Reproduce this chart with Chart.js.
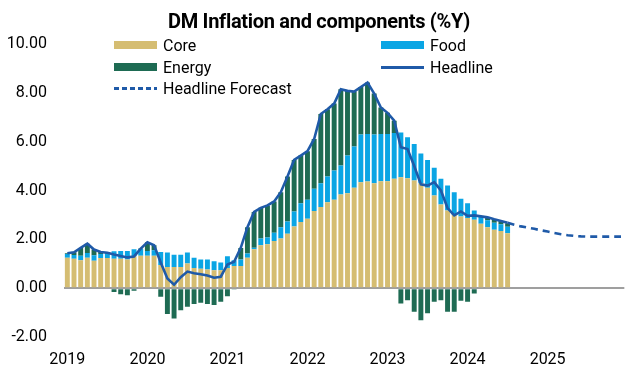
<!DOCTYPE html>
<html>
<head>
<meta charset="utf-8">
<script src="https://cdn.jsdelivr.net/npm/chart.js@4"></script>
<style>
  body { margin: 0; background: #fff; }
  #wrap { position: relative; width: 634px; height: 369px; font-family: Roboto, "Noto Sans", sans-serif; color: #000; }
  #title { position: absolute; left: 0; width: 638px; top: 8px; text-align: center; font-weight: 700; font-size: 20px; line-height: 26px; letter-spacing: -0.3px; }
  .item { position: absolute; height: 20px; display: flex; align-items: center; font-size: 16px; white-space: nowrap; }
  .sw { width: 43px; height: 8px; margin-right: 6px; }
  .ln { width: 43px; height: 3px; margin-right: 6px; }
</style>
</head>
<body>
<div id="wrap">
  <canvas id="chart" width="634" height="369"></canvas>
  <div id="title">DM Inflation and components (%Y)</div>
  <div class="item" style="left:114px;top:35px"><span class="sw" style="background:#D5BD72"></span>Core</div>
  <div class="item" style="left:114px;top:57px"><span class="sw" style="background:#1E6B53"></span>Energy</div>
  <div class="item" style="left:114px;top:78px"><span class="ln" style="background:repeating-linear-gradient(to right,#1F5AA8 0 5px,transparent 5px 8px)"></span>Headline Forecast</div>
  <div class="item" style="left:381px;top:35px"><span class="sw" style="background:#0AA5E4"></span>Food</div>
  <div class="item" style="left:381px;top:57px"><span class="ln" style="background:#1F5AA8"></span>Headline</div>
</div>
<script>
'use strict';

// monthly, Jan 2019 .. Dec 2025
const years = ['2019', '2020', '2021', '2022', '2023', '2024', '2025'];
const months = [];
years.forEach(function (y) {
    for (let m = 1; m <= 12; m++) months.push(y + '-' + String(m).padStart(2, '0'));
});

// contributions to y/y inflation, Jan 2019 .. Jul 2024
const core = [
    1.25, 1.20, 1.14, 1.25, 1.12, 1.24, 1.24, 1.20, 1.20, 1.17, 1.31, 1.33,
    1.33, 1.33, 0.95, 0.87, 0.87, 0.87, 1.01, 0.83, 0.80, 0.76, 0.73, 0.73,
    0.83, 0.91, 0.91, 1.25, 1.59, 1.76, 1.80, 1.93, 2.03, 2.23, 2.53, 2.71,
    2.84, 3.16, 3.32, 3.52, 3.62, 3.84, 3.89, 4.11, 4.34, 4.37, 4.30, 4.38,
    4.38, 4.48, 4.54, 4.50, 4.41, 4.30, 4.11, 3.80, 3.43, 3.18, 3.01, 2.94,
    2.87, 2.80, 2.64, 2.50, 2.39, 2.34, 2.25
];
const food = [
    0.15, 0.16, 0.19, 0.19, 0.23, 0.16, 0.17, 0.31, 0.32, 0.35, 0.28, 0.27,
    0.19, 0.22, 0.53, 0.59, 0.50, 0.50, 0.45, 0.42, 0.37, 0.41, 0.37, 0.32,
    0.48, 0.23, 0.26, 0.17, 0.07, 0.27, 0.27, 0.34, 0.47, 0.50, 0.61, 0.77,
    0.78, 0.91, 0.98, 1.05, 1.20, 1.18, 1.54, 1.69, 1.95, 1.94, 1.99, 1.93,
    1.93, 1.87, 1.84, 1.68, 1.49, 1.22, 1.14, 1.13, 1.05, 1.02, 0.92, 0.72,
    0.61, 0.38, 0.30, 0.28, 0.29, 0.28, 0.27
];
const energy = [
    0.03, 0.11, 0.32, 0.38, 0.23, 0.08, 0.04, -0.16, -0.25, -0.29, -0.11, 0.02,
    0.36, 0.21, -0.35, -1.06, -1.24, -0.90, -0.76, -0.65, -0.60, -0.65, -0.69, -0.56,
    -0.33, -0.05, 0.48, 1.08, 1.46, 1.26, 1.32, 1.28, 1.43, 1.84, 2.11, 1.95,
    1.99, 2.04, 2.83, 2.76, 2.74, 3.13, 2.65, 2.25, 1.95, 2.11, 1.68, 1.09,
    0.87, 0.51, -0.63, -0.49, -0.97, -1.31, -1.03, -0.56, -0.49, -0.97, -0.97, -0.52,
    -0.56, -0.22, 0.02, 0.10, 0.13, 0.12, 0.14
];
const headline = [
    1.43, 1.47, 1.65, 1.82, 1.58, 1.48, 1.45, 1.38, 1.32, 1.26, 1.30, 1.62,
    1.88, 1.76, 1.05, 0.40, 0.14, 0.45, 0.68, 0.61, 0.57, 0.52, 0.43, 0.47,
    0.97, 1.08, 1.65, 2.50, 3.12, 3.29, 3.39, 3.55, 3.93, 4.57, 5.25, 5.43,
    5.61, 6.11, 7.13, 7.33, 7.56, 8.15, 8.08, 8.05, 8.24, 8.42, 7.97, 7.40,
    7.18, 6.86, 5.77, 5.70, 5.00, 4.25, 4.20, 4.34, 4.00, 3.28, 2.98, 3.14,
    2.96, 2.98, 2.94, 2.90, 2.82, 2.75, 2.68
];
// forecast path, Jul 2024 .. Dec 2025
const forecast = [
    2.68, 2.60, 2.53, 2.48, 2.43, 2.37, 2.32, 2.26, 2.21, 2.17, 2.14, 2.12,
    2.11, 2.11, 2.11, 2.11, 2.11, 2.11
];
const yTicks = [-2, 0, 2, 4, 6, 8, 10];

const forecastData = new Array(months.length - forecast.length).fill(null).concat(forecast);

const tickFont = { family: 'Roboto', size: 16 };

function barSet(label, data, color) {
    return {
        type: 'bar',
        label: label,
        data: data,
        backgroundColor: color,
        borderWidth: 0,
        barPercentage: 0.74,
        categoryPercentage: 1.0,
        stack: 'components',
        order: 2
    };
}

new Chart(document.getElementById('chart').getContext('2d'), {
    data: {
        labels: months,
        datasets: [
            barSet('Core', core, '#D5BD72'),
            barSet('Food', food, '#0AA5E4'),
            barSet('Energy', energy, '#1E6B53'),
            {
                type: 'line',
                label: 'Headline',
                data: headline,
                borderColor: '#1F5AA8',
                borderWidth: 2.6,
                pointRadius: 0,
                tension: 0,
                stack: 'headline',
                order: 1
            },
            {
                type: 'line',
                label: 'Headline Forecast',
                data: forecastData,
                borderColor: '#1F5AA8',
                borderWidth: 2.6,
                borderDash: [7, 5],
                pointRadius: 0,
                tension: 0,
                stack: 'forecast',
                order: 1
            }
        ]
    },
    options: {
        responsive: false,
        animation: false,
        layout: { padding: { top: 44, right: 0, bottom: 0, left: 0 } },
        plugins: {
            legend: { display: false },
            tooltip: { enabled: false }
        },
        scales: {
            x: {
                stacked: true,
                grid: { display: false, drawTicks: false },
                border: { display: false },
                ticks: {
                    autoSkip: false,
                    maxRotation: 0,
                    padding: 13,
                    color: '#000',
                    font: tickFont,
                    callback: function (v, i) { return i % 12 === 0 ? years[i / 12] : ''; }
                },
                afterFit: function (s) { s.height = 32; }
            },
            y: {
                stacked: true,
                min: yTicks[0],
                max: yTicks[yTicks.length - 1],
                grid: {
                    drawTicks: false,
                    lineWidth: 2,
                    color: function (c) { return c.tick && c.tick.value === 0 ? '#9f9f9f' : 'rgba(0,0,0,0)'; }
                },
                border: { display: false },
                afterBuildTicks: function (s) { s.ticks = yTicks.map(function (v) { return { value: v }; }); },
                ticks: {
                    padding: 17,
                    color: '#000',
                    font: tickFont,
                    callback: function (v) { return Number(v).toFixed(2); }
                },
                afterFit: function (s) { s.width = 64; }
            }
        }
    }
});
</script>
</body>
</html>
